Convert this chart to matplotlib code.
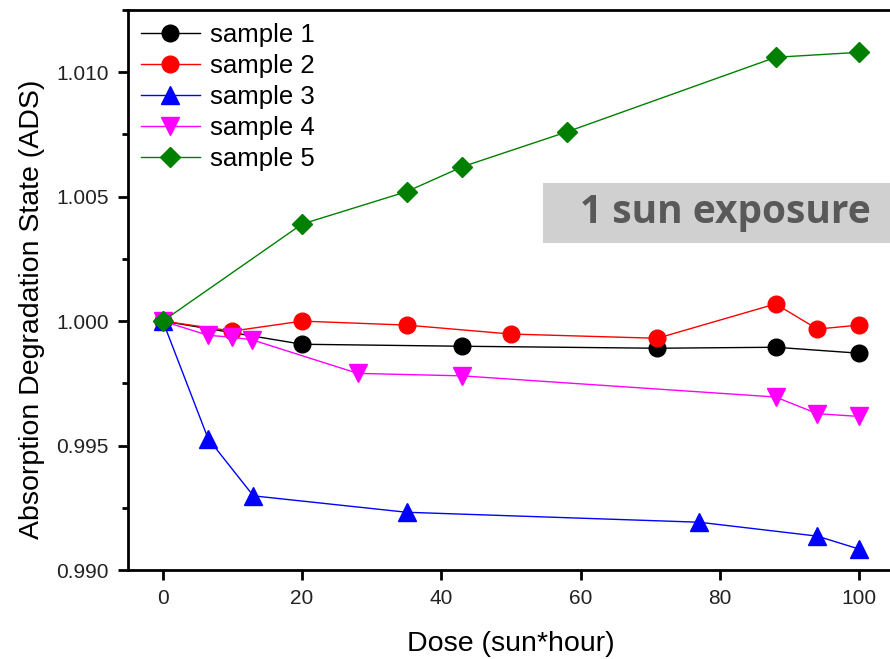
import numpy as np
import matplotlib
matplotlib.use('Agg')
import matplotlib.pyplot as plt
from matplotlib.ticker import MultipleLocator
from matplotlib.patches import Rectangle

plt.rcParams['font.family'] = ['Liberation Sans', 'DejaVu Sans']

# dose (sun*hour) and ADS values per sample
x1 = [0, 20, 43, 71, 88, 100]
y1 = [1.0000, 0.99907, 0.99899, 0.99891, 0.99895, 0.99871]

x2 = [0, 10, 20, 35, 50, 71, 88, 94, 100]
y2 = [1.0000, 0.9996, 1.0000, 0.99984, 0.99948, 0.99931, 1.00069, 0.99968, 0.99984]

x3 = [0, 6.5, 13, 35, 77, 94, 100]
y3 = [1.0000, 0.99528, 0.99298, 0.99232, 0.99192, 0.99136, 0.99084]

x4 = [0, 6.5, 10, 12.8, 28, 43, 88, 94, 100]
y4 = [1.0000, 0.99943, 0.99935, 0.99925, 0.99790, 0.99780, 0.99695, 0.99628, 0.99617]

x5 = [0, 20, 35, 43, 58, 88, 100]
y5 = [1.0000, 1.0039, 1.0052, 1.0062, 1.0076, 1.0106, 1.0108]

labels = ['sample 1', 'sample 2', 'sample 3', 'sample 4', 'sample 5']
colors = ['black', 'red', 'blue', 'magenta', 'green']
markers = ['o', 'o', '^', 'v', 'D']
sizes = [12, 12, 13, 13, 10]

fig = plt.figure(figsize=(8.9, 6.59), dpi=100)
# axes runs off the right edge like the cropped original
ax = fig.add_axes([128/890, 89/659, 766/890, 560/659])

series = [(x1, y1), (x2, y2), (x3, y3), (x4, y4), (x5, y5)]
for (xs, ys), lab, c, m, s in zip(series, labels, colors, markers, sizes):
    ax.plot(xs, ys, color=c, marker=m, markersize=s, lw=1, label=lab,
            markeredgecolor=c)

ax.set_xlim(-5, 105)
ax.set_ylim(0.990, 1.0125)
ax.set_xticks([0, 20, 40, 60, 80, 100])
ax.set_yticks([0.990, 0.995, 1.000, 1.005, 1.010])
ax.yaxis.set_minor_locator(MultipleLocator(0.0025))
ax.set_yticklabels(['0.990', '0.995', '1.000', '1.005', '1.010'])

for side in ['bottom', 'left', 'top', 'right']:
    ax.spines[side].set_linewidth(2)
ax.tick_params(axis='both', which='major', direction='out', width=2, length=7,
               labelsize=15, pad=7, labelcolor='#222222')
ax.tick_params(axis='y', which='minor', direction='out', width=2, length=4)

ax.set_xlabel('Dose (sun*hour)', fontsize=20.5, labelpad=16)
ax.set_ylabel('Absorption Degradation State (ADS)', fontsize=20.5)
ax.yaxis.set_label_coords(-0.108, 0.465)

ax.legend(loc='upper left', frameon=False, fontsize=18.5, handlelength=2.3,
          borderaxespad=0.2, labelspacing=0.27, handletextpad=0.4,
          borderpad=0.3)

# grey label box in the upper right
fig.patches.append(Rectangle((543/890, 416/659), 0.40, 60/659,
                             transform=fig.transFigure, fc='#d0d0d0',
                             ec='none', zorder=3))
fig.text(580/890, 446/659, '1 sun exposure', fontsize=28, fontweight='bold',
         color='#595959', family=['Open Sans', 'DejaVu Sans'], va='center',
         ha='left', zorder=4)

plt.savefig('out.png', dpi=100)
